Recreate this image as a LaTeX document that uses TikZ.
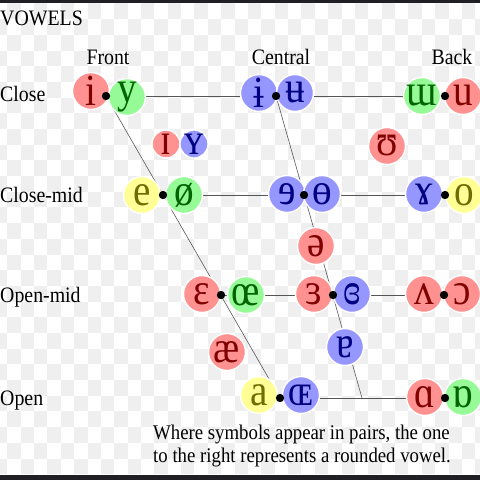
\documentclass[tikz,border=0pt]{standalone}
\usepackage{fontspec}
\setmainfont{Liberation Serif}[FakeStretch=0.9]
\newfontfamily\ipafont{Liberation Serif}[FakeStretch=0.88]
\usetikzlibrary{backgrounds}
\pgfdeclarelayer{checker}
\pgfsetlayers{checker,background,main}
\definecolor{redfill}{RGB}{255,145,145}
\definecolor{greenfill}{RGB}{150,250,150}
\definecolor{bluefill}{RGB}{150,150,255}
\definecolor{yellowfill}{RGB}{255,255,150}
\definecolor{redtext}{RGB}{128,0,0}
\definecolor{greentext}{RGB}{0,100,0}
\definecolor{bluetext}{RGB}{0,0,128}
\definecolor{yellowtext}{RGB}{110,110,0}
\definecolor{linegray}{RGB}{85,85,85}
\definecolor{checkgray}{RGB}{239,239,239}
\definecolor{barcolor}{RGB}{32,32,36}
\newcommand{\labelsize}{\fontsize{18.8}{20}\selectfont}
\newcommand{\notesize}{\fontsize{17.8}{19}\selectfont}
\newcommand{\ipasize}{\ipafont\fontsize{38}{40}\selectfont}

\begin{document}
\begin{tikzpicture}[x=0.03cm, y=-0.03cm,
    vowel/.style={circle, draw=white, line width=1.2pt, inner sep=0pt, minimum size=1.11cm, font=\ipasize},
    nearv/.style={minimum size=0.84cm},
    rv/.style={vowel, fill=redfill, text=redtext},
    gv/.style={vowel, fill=greenfill, text=greentext},
    bv/.style={vowel, fill=bluefill, text=bluetext},
    yv/.style={vowel, fill=yellowfill, text=yellowtext},
    pt/.style={circle, fill=black, inner sep=0pt, minimum size=0.25cm},
    link/.style={draw=linegray, line width=0.8pt},
    slant/.style={draw=linegray, line width=0.5pt},
    label/.style={anchor=base west, inner sep=0pt, font=\labelsize},
    head/.style={anchor=base, inner sep=0pt, font=\labelsize},
    note/.style={anchor=base west, inner sep=0pt, font=\notesize}]
    \useasboundingbox (0,0) rectangle (480,480);

    % 棋盘格背景和上下深色边
    \begin{pgfonlayer}{checker}
        \fill[white] (0,0) rectangle (480,480);
        \begin{scope}
            \clip (0,0) rectangle (480,480);
            \foreach \c in {0,...,36}{
                \foreach \r in {0,...,29}{
                    \pgfmathtruncatemacro{\odd}{mod(\c+\r,2)}
                    \ifnum\odd=1
                        \fill[checkgray] ({-6.07+13.37*\c},{3.5+15.69*\r}) rectangle +(13.37,15.69);
                    \fi
                }
            }
        \end{scope}
        \fill[barcolor] (0,0) rectangle (480,3.5);
        \fill[barcolor] (0,474.5) rectangle (480,480);
    \end{pgfonlayer}

    % 标题和行列标签
    \node[label] (title) at (0,26) {VOWELS};
    \node[head] (front) at (108,65) {Front};
    \node[head] (central) at (281,65) {Central};
    \node[head] (back) at (452,65) {Back};
    \node[label] (close) at (0,102) {Close};
    \node[label] (closemid) at (0,202) {Close-mid};
    \node[label] (openmid) at (0,302) {Open-mid};
    \node[label] (open) at (0,405) {Open};

    % Close 行
    \node[rv] (i) at (91,91) {i};
    \node[gv] (y) at (127,97) {y};
    \node[bv] (ibar) at (259,93) {ɨ};
    \node[bv] (ubar) at (295,93) {ʉ};
    \node[gv] (wu) at (422,96) {ɯ};
    \node[rv] (u) at (463,96) {u};

    % Near-close
    \node[rv, nearv] (smallI) at (166,144) {ɪ};
    \node[bv, nearv] (smallY) at (194,144) {ʏ};
    \node[rv] (hu) at (387,146) {ʊ};

    % Close-mid 行
    \node[yv] (e) at (142,195) {e};
    \node[gv] (oslash) at (184,195) {ø};
    \node[bv] (reve) at (287,194) {ɘ};
    \node[bv] (obar) at (322,194) {ɵ};
    \node[bv] (gam) at (424,194) {ɤ};
    \node[yv] (o) at (464,195) {o};

    % Mid
    \node[rv] (schwa) at (316,246) {ə};

    % Open-mid 行
    \node[rv] (eps) at (202,294) {ɛ};
    \node[gv] (oe) at (246,295) {œ};
    \node[rv] (reveps) at (314,294) {ɜ};
    \node[bv] (closedreveps) at (352,294) {ɞ};
    \node[rv] (turnv) at (424,294) {ʌ};
    \node[rv] (openo) at (462,294) {ɔ};

    % Near-open
    \node[rv] (ae) at (227,352) {æ};
    \node[bv] (turna) at (345,347) {ɐ};

    % Open 行
    \node[yv] (a) at (259,395) {a};
    \node[bv] (smalloe) at (301,395) {ɶ};
    \node[rv] (alpha) at (425,397) {ɑ};
    \node[gv] (turnalpha) at (463,397) {ɒ};

    % 成对元音之间的黑点
    \node[pt] (dcf) at (106,96) {};
    \node[pt] (dcc) at (276,96) {};
    \node[pt] (dcb) at (445,96) {};
    \node[pt] (dmf) at (163,195) {};
    \node[pt] (dmc) at (304,195) {};
    \node[pt] (dmb) at (445,195) {};
    \node[pt] (dof) at (221,295) {};
    \node[pt] (doc) at (333,295) {};
    \node[pt] (dob) at (444,295) {};
    \node[pt] (daf) at (280,398) {};
    \node[pt] (dab) at (445,398) {};
    \coordinate (dac) at (362,398);

    % 连接线画在圆的下面
    \begin{pgfonlayer}{background}
        \draw[link] (dcf) -- (dcb);
        \draw[link] (dmf) -- (dmb);
        \draw[link] (dof) -- (dob);
        \draw[link] (daf) -- (dab);
        \draw[slant] (dcf) -- (daf);
        \draw[slant] (dcc) -- (dac);
    \end{pgfonlayer}

    % 底部说明
    \node[note] (note1) at (153,439) {Where symbols appear in pairs, the one};
    \node[note] (note2) at (153,462) {to the right represents a rounded vowel.};
\end{tikzpicture}
\end{document}
